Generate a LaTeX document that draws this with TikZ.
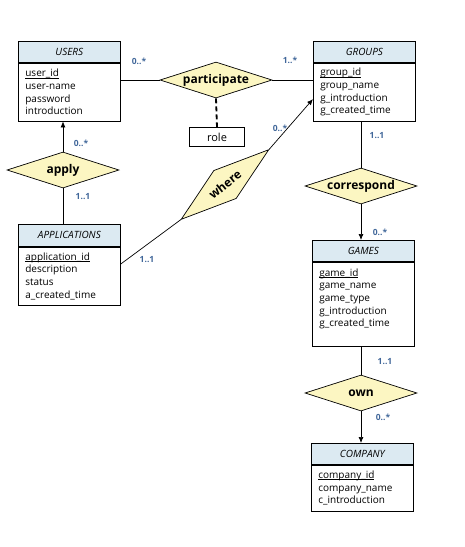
\documentclass[tikz,border=0pt]{standalone}
\usepackage{fontspec}
\setmainfont{Open Sans}
\usetikzlibrary{shapes.geometric,arrows.meta}
\definecolor{headblue}{HTML}{DCEAF2}
\definecolor{relyellow}{HTML}{FCF6C2}
\definecolor{cardblue}{HTML}{41679A}
\newcommand{\pkey}[1]{\setbox0\hbox{#1}\rlap{\rule[-1.6pt]{\wd0}{0.5pt}}\box0}
\tikzset{head/.style={draw, fill=headblue, anchor=north west, minimum width=102pt, minimum height=21pt, inner sep=0pt, font=\fontsize{10}{12}\selectfont\itshape},
  attrs/.style={draw, anchor=north west, text width=88pt, inner xsep=7pt, inner ysep=0pt, align=left, font=\fontsize{10}{12.7}\selectfont},
  rel/.style={draw, diamond, fill=relyellow, aspect=3, minimum width=112pt, minimum height=36pt, inner sep=0pt, font=\fontsize{12}{14}\selectfont\bfseries},
  card/.style={text=cardblue, inner sep=0pt, font=\fontsize{8.5}{10}\selectfont\bfseries},
  link/.style={line width=0.7pt},
  tolink/.style={line width=0.7pt, -{Latex[length=6pt,width=5pt]}}}

\begin{document}
\begin{tikzpicture}[x=1pt, y=-1pt, line width=0.7pt]
    \useasboundingbox (0,0) rectangle (464,547);
    \node [head] (usersh) at (18,41) {USERS};
    \node [attrs, minimum height=58pt] (users) at (usersh.south west) {\pkey{user\_id}\\ user-name\\ password\\ introduction};
    \node [head] (groupsh) at (313,41) {GROUPS};
    \node [attrs, minimum height=58pt] (groups) at (groupsh.south west) {\pkey{group\_id}\\ group\_name\\ g\_introduction\\ g\_created\_time};
    \node [head, minimum height=22pt] (appsh) at (18,224) {APPLICATIONS};
    \node [attrs, minimum height=58pt] (apps) at (appsh.south west) {\pkey{application\_id}\\ description\\ status\\ a\_created\_time};
    \node [head] (gamesh) at (312,240) {GAMES};
    \node [attrs, minimum height=84pt] (games) at (gamesh.south west) {\pkey{game\_id}\\ game\_name\\ game\_type\\ g\_introduction\\ g\_created\_time\\ \mbox{}};
    \node [head] (comph) at (311,443) {COMPANY};
    \node [attrs, minimum height=46pt] (comp) at (comph.south west) {\pkey{company\_id}\\ company\_name\\ c\_introduction};

    \node [rel] (part) at (216,80) {participate};
    \node [draw, minimum width=55pt, minimum height=19pt, inner sep=0pt, font=\fontsize{11}{13}\selectfont] (role) at (217,137) {role};
    \node [rel] (apply) at (63,170) {apply};
    \node [rel, rotate=38.5] (where) at (225,184.5) {where};
    \node [rel] (corr) at (361,186) {correspond};
    \node [rel] (own) at (361,393) {own};

    \node [card] (c1) at (139,61) {0..*};
    \node [card] (c2) at (290,60) {1..*};
    \node [card] (c3) at (81,143) {0..*};
    \node [card] (c4) at (83,197) {1..1};
    \node [card] (c5) at (147,260) {1..1};
    \node [card] (c6) at (280,128) {0..*};
    \node [card] (c7) at (377,136) {1..1};
    \node [card] (c8) at (380,232) {0..*};
    \node [card] (c9) at (385,362) {1..1};
    \node [card] (c10) at (383,417) {0..*};

    \draw [link] (part.west) -- (part.west -| users.east);
    \draw [link] (part.east) -- (part.east -| groups.west);
    \draw [line width=1.8pt, dash pattern=on 5pt off 3pt] (part.south) -- (role.north);
    \draw [tolink] (apply.north) -- (apply.north |- users.south);
    \draw [link] (apply.south) -- (apply.south |- appsh.north);
    \draw [link] ([yshift=12pt]apps.east) -- (where.west);
    \draw [tolink] (where.east) -- ([yshift=-7pt]groups.west);
    \draw [link] (corr.north |- groups.south) -- (corr.north);
    \draw [tolink] (corr.south) -- (corr.south |- gamesh.north);
    \draw [link] (own.north |- games.south) -- (own.north);
    \draw [tolink] (own.south) -- (own.south |- comph.north);
  \end{tikzpicture}
\end{document}
